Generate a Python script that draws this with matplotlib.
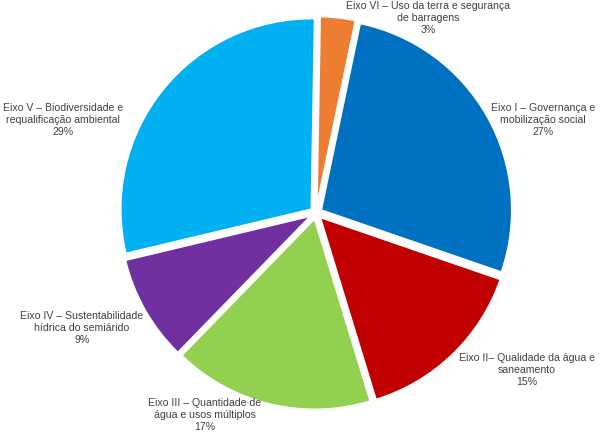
import matplotlib.pyplot as plt

# Data
labels = ['Eixo VI – Uso da terra e segurança\nde barragens',
          'Eixo I – Governança e\nmobilização social',
          'Eixo II– Qualidade da água e\nsaneamento',
          'Eixo III – Quantidade de\nágua e usos múltiplos',
          'Eixo IV – Sustentabilidade\nhídrica do semiárido',
          'Eixo V – Biodiversidade e\nrequalificação ambiental']
values = [3, 27, 15, 17, 9, 29]
colors = ['#ED7D31', '#0070C0', '#C00000', '#92D050', '#7030A0', '#00B0F0']

# label centres (pixel coords in the 600x435 image)
label_px = [(428, 18), (543, 120), (527, 370), (205, 415), (82, 328), (63, 120)]

plt.rcParams['font.family'] = ['Liberation Sans', 'DejaVu Sans']

fig = plt.figure(figsize=(6, 4.35), dpi=100)
ax = fig.add_axes([0, 0, 1, 1])

cx, cy, scale = 316, 214, 191  # pie centre and pixels per unit radius

wedges, _ = ax.pie(values, colors=colors, startangle=89, counterclock=False,
                   explode=[0.03] * len(values), radius=1,
                   wedgeprops=dict(edgecolor='white', linewidth=1.5))

total = sum(values)
for lab, v, (px, py) in zip(labels, values, label_px):
    x = (px - cx) / scale
    y = (cy - py) / scale
    ax.text(x, y, f'{lab}\n{round(100 * v / total)}%', ha='center', va='center',
            fontsize=7.6, color='#404040', linespacing=1.2)

ax.set_xlim(-cx / scale, (600 - cx) / scale)
ax.set_ylim(-(435 - cy) / scale, cy / scale)
ax.set_aspect('equal')
ax.axis('off')

fig.savefig('out.png', dpi=100)
